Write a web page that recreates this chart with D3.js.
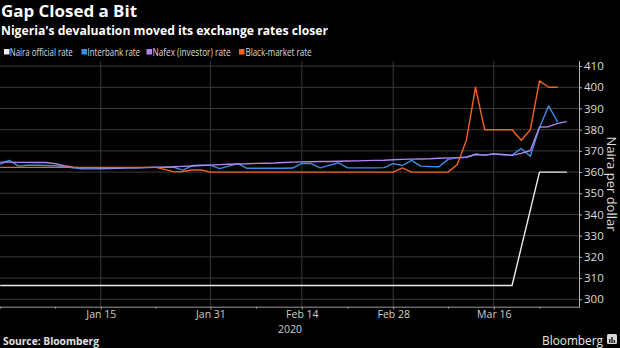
<!DOCTYPE html>
<html><head><meta charset="utf-8">
<script src="https://cdn.jsdelivr.net/npm/d3@7"></script>
<style>
html,body{margin:0;padding:0;background:#000;}
svg{display:block;background:#000;}
text{font-family:"Open Sans","Noto Sans",sans-serif;}
</style></head>
<body>
<svg id="chart" width="620" height="348"></svg>
<script>
// ---------- DATA ----------
const dates = [
"2019-12-31",
"2020-01-01","2020-01-02","2020-01-03","2020-01-06","2020-01-07","2020-01-08","2020-01-09","2020-01-10",
"2020-01-13","2020-01-14","2020-01-15","2020-01-16","2020-01-17","2020-01-20","2020-01-21","2020-01-22",
"2020-01-23","2020-01-24","2020-01-27","2020-01-28","2020-01-29","2020-01-30","2020-01-31",
"2020-02-03","2020-02-04","2020-02-05","2020-02-06","2020-02-07","2020-02-10","2020-02-11","2020-02-12",
"2020-02-13","2020-02-14","2020-02-17","2020-02-18","2020-02-19","2020-02-20","2020-02-21","2020-02-24",
"2020-02-25","2020-02-26","2020-02-27","2020-02-28",
"2020-03-02","2020-03-03","2020-03-04","2020-03-05","2020-03-06","2020-03-09","2020-03-10","2020-03-11",
"2020-03-12","2020-03-13","2020-03-16","2020-03-17","2020-03-18","2020-03-19","2020-03-20","2020-03-23",
"2020-03-24","2020-03-25","2020-03-26"];

const officialRate = [
306.5,306.5,306.5,306.5,306.5,306.5,306.5,306.5,306.5,306.5,
306.5,306.5,306.5,306.5,306.5,306.5,306.5,306.5,306.5,306.5,
306.5,306.5,306.5,306.5,306.5,306.5,306.5,306.5,306.5,306.5,
306.5,306.5,306.5,306.5,306.5,306.5,306.5,306.5,306.5,306.5,
306.5,306.5,306.5,306.5,306.5,306.5,306.5,306.5,306.5,306.5,
306.5,306.5,306.5,306.5,306.5,306.5,306.5,null,null,360,
360,360,360];

const interbankRate = [
363.8,365.5,362.8,363.2,363.2,363.1,363.0,362.5,362.0,361.6,
361.5,361.5,361.7,361.8,362.0,362.0,362.2,362.3,362.3,362.2,
360.9,363.1,363.2,363.3,361.6,362.8,364.0,361.8,361.8,361.8,
361.8,361.8,361.9,364.1,364.0,362.0,363.2,364.4,362.0,362.0,
362.0,362.0,362.1,364.0,363.1,365.5,362.8,362.6,362.5,366.0,
366.7,367.0,368.5,368.0,368.5,368.2,368.0,371.1,367.5,381.0,
391.2,383.5,null];

const nafexRate = [
364.7,364.7,364.6,364.6,364.5,364.5,364.0,363.0,362.3,362.0,
362.0,361.9,361.9,361.9,362.0,362.0,362.1,362.2,362.3,362.5,
362.7,362.9,363.1,363.3,363.5,363.7,363.8,363.9,364.1,364.2,
364.3,364.5,364.7,364.8,364.9,365.0,365.0,365.1,365.2,365.3,
365.4,365.5,365.6,365.8,366.0,366.1,366.2,366.3,366.5,366.7,
366.8,367.0,368.3,368.0,368.6,368.3,367.9,368.8,370.2,381.2,
381.4,383.0,383.8];

const blackMarketRate = [
362.2,362.2,362.2,362.2,362.2,362.2,362.2,362.2,362.2,362.2,
362.2,362.2,362.2,362.2,362.2,362.2,362.2,362.2,361.3,360.1,
360.3,361.0,361.0,360,360,360,360,360,360,360,
360,360,360,360,360,360,360,360,360,360,
360,360,360,360,362.0,360,360,360,360,360,
363.5,375,400,380,380,380,380,375,380,403,
400,400,null];

const seriesNames = ["Naira official rate","Interbank rate","Nafex (investor) rate","Black-market rate"];
const seriesColors = ["#ececec","#3a8ee6","#b284f0","#f2621f"];
const yTicks = [300,310,320,330,340,350,360,370,380,390,400,410];
const xMajorTicks = ["2020-01-15","2020-01-31","2020-02-14","2020-02-28","2020-03-16"];
const xMajorLabels = ["Jan 15","Jan 31","Feb 14","Feb 28","Mar 16"];
const xMinorTicks = ["2019-12-31","2020-01-08","2020-01-23","2020-02-07","2020-02-21","2020-03-09","2020-03-23"];

// ---------- LAYOUT ----------
const svg = d3.select("#chart");
const plot = {left:0, right:579, top:61, bottom:306.7};

const x = d3.scalePoint().domain(dates).range([0.2, 566.9]);
const y = d3.scaleLinear().domain([296.5, 412.4]).range([plot.bottom, plot.top]);

// Title texts
svg.append("text").attr("x",1).attr("y",17).attr("fill","#fff")
  .attr("font-size",16).attr("font-weight","bold")
  .attr("textLength",136).attr("lengthAdjust","spacingAndGlyphs")
  .text("Gap Closed a Bit");
svg.append("text").attr("x",1).attr("y",35.3).attr("fill","#fff")
  .attr("font-size",12.5).attr("font-weight","bold")
  .attr("textLength",327).attr("lengthAdjust","spacingAndGlyphs")
  .text("Nigeria's devaluation moved its exchange rates closer");

// Legend
const legendPos = [{sq:4, tx:9.8, w:63},{sq:81.5, tx:87.5, w:52.5},{sq:146.5, tx:152.5, w:78},{sq:239, tx:245.5, w:66}];
seriesNames.forEach((n,i)=>{
  const g = svg.append("g");
  g.append("rect").attr("x",legendPos[i].sq).attr("y",49).attr("width",5.5).attr("height",5.5)
    .attr("fill",seriesColors[i]);
  g.append("text").attr("x",legendPos[i].tx).attr("y",55.5).attr("fill","#ddd")
    .attr("font-size",10).attr("textLength",legendPos[i].w).attr("lengthAdjust","spacingAndGlyphs")
    .text(n);
});

// Grid
const grid = svg.append("g");
grid.selectAll("line.h").data(yTicks).join("line").attr("class","h")
  .attr("x1",plot.left).attr("x2",plot.right)
  .attr("y1",d=>y(d)).attr("y2",d=>y(d))
  .attr("stroke","#3a3a3a").attr("stroke-width",1);
grid.selectAll("line.v").data(xMajorTicks).join("line").attr("class","v")
  .attr("x1",d=>x(d)).attr("x2",d=>x(d))
  .attr("y1",plot.top).attr("y2",plot.bottom)
  .attr("stroke","#3a3a3a").attr("stroke-width",1);

// Bottom axis
const xAxis = d3.axisBottom(x).tickValues(xMajorTicks)
  .tickFormat((d,i)=>xMajorLabels[i]).tickSize(3).tickSizeOuter(0);
const gx = svg.append("g").attr("transform",`translate(0,${plot.bottom})`).call(xAxis);
gx.select(".domain").attr("stroke","#9a9a9a").attr("d",`M${plot.left},0.5H${plot.right}`);
gx.selectAll(".tick line").attr("stroke","#9a9a9a");
gx.selectAll(".tick text").attr("fill","#cfcfcf").attr("font-size",10.5)
  .attr("font-family","'Open Sans','Noto Sans',sans-serif").attr("dy",null).attr("y",11);
const xMinor = d3.axisBottom(x).tickValues(xMinorTicks).tickFormat("").tickSize(2).tickSizeOuter(0);
const gxm = svg.append("g").attr("transform",`translate(0,${plot.bottom})`).call(xMinor);
gxm.select(".domain").remove();
gxm.selectAll(".tick line").attr("stroke","#9a9a9a");

svg.append("text").attr("x",290).attr("y",332.5).attr("text-anchor","middle")
  .attr("fill","#cfcfcf").attr("font-size",10.5).text("2020");

// Right axis
const yAxis = d3.axisRight(y).tickValues(yTicks).tickSize(3).tickPadding(2).tickSizeOuter(0);
const gy = svg.append("g").attr("transform",`translate(${plot.right},0)`).call(yAxis);
gy.select(".domain").attr("stroke","#b5b5b5").attr("d",`M0.5,${plot.top}V${plot.bottom+1}`);
gy.selectAll(".tick line").attr("stroke","#b5b5b5");
gy.selectAll(".tick text").attr("fill","#dcdcdc").attr("font-size",11.5)
  .attr("font-family","'Open Sans','Noto Sans',sans-serif");

svg.append("text").attr("transform","translate(607,184) rotate(90)")
  .attr("text-anchor","middle").attr("fill","#dcdcdc").attr("font-size",13)
  .text("Naira per dollar");

// Lines
const allSeries = [officialRate, interbankRate, nafexRate, blackMarketRate];
const line = d3.line().x(d=>x(d.date)).y(d=>y(d.v));
allSeries.forEach((arr,i)=>{
  const pts = dates.map((dt,j)=>({date:dt, v:arr[j]})).filter(p=>p.v!==null);
  svg.append("path").datum(pts).attr("d",line)
    .attr("fill","none").attr("stroke",seriesColors[i]).attr("stroke-width",1.4)
    .attr("stroke-linejoin","round");
});

// Footer
svg.append("text").attr("x",3).attr("y",345).attr("fill","#e0e0e0")
  .attr("font-size",10).attr("font-weight","bold")
  .attr("textLength",96).attr("lengthAdjust","spacingAndGlyphs")
  .text("Source: Bloomberg");
svg.append("text").attr("x",542).attr("y",344.5).attr("fill","#e8e8e8")
  .attr("font-size",13).attr("textLength",61).attr("lengthAdjust","spacingAndGlyphs")
  .text("Bloomberg");
const logo = svg.append("g").attr("transform","translate(607,334)");
logo.append("rect").attr("width",10).attr("height",10).attr("rx",1.5).attr("fill","#d8d8d8");
[[2,5,1.5,4],[4.3,3,1.5,6],[6.6,6,1.5,3]].forEach(b=>{
  logo.append("rect").attr("x",b[0]).attr("y",b[1]).attr("width",b[2]).attr("height",b[3]).attr("fill","#222");
});
</script>
</body></html>
